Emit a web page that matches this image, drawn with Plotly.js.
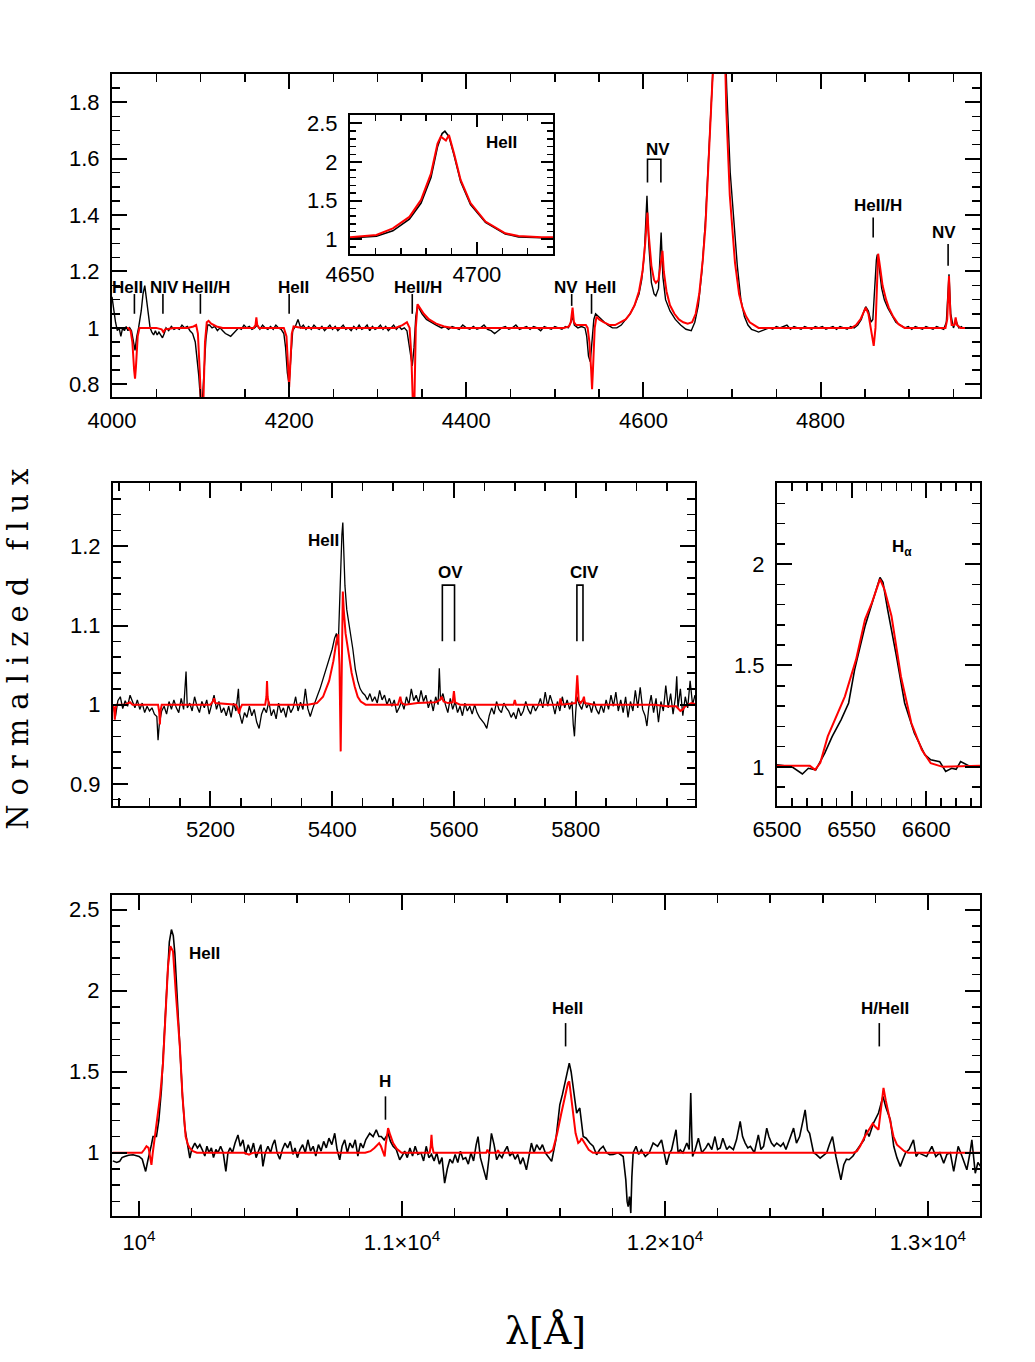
<!DOCTYPE html>
<html><head><meta charset="utf-8">
<script src="https://cdn.plot.ly/plotly-3.0.1.min.js"></script>
<style>html,body{margin:0;padding:0;background:#fff}</style>
</head><body><div id="chart" style="width:1035px;height:1362px"></div>
<script>
// ---------------- DATA ----------------
// Top panel (4000-4980 A): observed (black) and model (red)
const topObs = [[4000,1.11],[4002,1.06],[4004,1.02],[4006,0.99],[4008,1.0],[4010,0.97],[4012,1.0],[4014,0.99],[4016,1.005],[4018,0.99],[4020,1.0],[4022,0.99],[4024,0.95],[4026,0.92],[4028,0.97],[4030,1.0],[4033,1.06],[4035,1.12],[4037,1.15],[4039,1.10],[4041,1.03],[4043,1.0],[4045,0.985],[4047,0.975],[4049,0.99],[4051,0.975],[4053,0.985],[4055,0.975],[4057,0.965],[4059,0.98],[4061,1.0],[4064,0.99],[4067,1.005],[4070,0.995],[4073,1.0],[4076,0.995],[4079,1.01],[4082,1.0],[4085,1.005],[4088,0.99],[4091,0.98],[4094,0.95],[4096,0.9],[4098,0.83],[4100,0.74],[4102,0.74],[4104,0.85],[4106,0.96],[4108,1.01],[4110,1.01],[4113,1.0],[4116,1.005],[4119,0.99],[4122,1.0],[4125,0.99],[4128,0.98],[4131,0.975],[4134,0.97],[4137,0.98],[4140,0.99],[4143,1.0],[4146,0.995],[4149,1.01],[4152,1.0],[4155,1.005],[4158,0.995],[4161,1.0],[4164,1.01],[4167,0.995],[4170,1.01],[4173,1.0],[4176,0.995],[4179,1.005],[4182,0.995],[4185,1.01],[4188,1.0],[4191,0.995],[4194,0.98],[4196,0.93],[4198,0.84],[4200,0.8],[4202,0.9],[4204,0.99],[4207,1.005],[4210,1.03],[4213,1.0],[4216,1.01],[4219,0.995],[4222,1.005],[4225,0.995],[4228,1.01],[4231,1.0],[4234,0.995],[4237,1.005],[4240,0.99],[4243,1.0],[4246,1.01],[4249,0.995],[4252,1.005],[4255,0.99],[4258,1.0],[4261,1.01],[4264,0.995],[4267,1.0],[4270,0.99],[4273,1.005],[4276,0.995],[4279,1.01],[4282,0.995],[4285,1.0],[4288,1.01],[4291,0.99],[4294,1.005],[4297,0.995],[4300,1.0],[4303,1.01],[4306,0.995],[4309,1.005],[4312,0.99],[4315,1.0],[4318,1.01],[4321,0.995],[4324,1.005],[4327,0.995],[4330,1.0],[4333,0.99],[4335,0.95],[4337,0.9],[4339,0.865],[4341,0.93],[4343,1.04],[4345,1.08],[4347,1.07],[4350,1.05],[4355,1.03],[4360,1.02],[4366,1.01],[4372,1.0],[4376,1.005],[4380,0.995],[4384,1.005],[4388,1.0],[4392,0.995],[4396,1.01],[4400,1.0],[4404,0.995],[4408,1.005],[4412,0.995],[4416,1.0],[4420,1.01],[4424,0.995],[4428,0.99],[4432,0.98],[4436,0.99],[4440,1.0],[4444,1.005],[4448,0.995],[4452,1.0],[4456,1.01],[4460,0.995],[4464,1.0],[4468,1.005],[4472,0.995],[4476,1.005],[4480,1.0],[4484,0.99],[4488,1.005],[4492,1.0],[4496,0.995],[4500,1.005],[4504,1.0],[4508,0.995],[4512,1.005],[4515,1.0],[4518,1.02],[4520,1.04],[4522,1.01],[4526,1.0],[4530,1.005],[4534,1.0],[4536,0.97],[4538,0.9],[4540,0.88],[4542,0.95],[4544,1.03],[4546,1.05],[4549,1.04],[4552,1.03],[4556,1.02],[4560,1.01],[4565,1.0],[4570,1.0],[4575,1.01],[4580,1.03],[4585,1.05],[4590,1.08],[4595,1.12],[4598,1.17],[4601,1.26],[4603,1.4],[4604,1.468],[4606,1.3],[4609,1.16],[4612,1.12],[4614,1.113],[4617,1.14],[4619,1.25],[4620,1.338],[4622,1.18],[4625,1.1],[4630,1.06],[4636,1.03],[4642,1.01],[4648,0.995],[4654,0.99],[4658,1.02],[4662,1.08],[4666,1.2],[4670,1.38],[4674,1.65],[4678,2.0],[4682,2.3],[4686,2.39],[4690,2.25],[4694,1.85],[4698,1.55],[4702,1.38],[4706,1.22],[4710,1.1],[4714,1.04],[4718,1.01],[4722,0.995],[4726,0.99],[4730,0.985],[4734,0.99],[4738,0.995],[4742,1.0],[4746,0.995],[4750,1.005],[4754,1.0],[4758,1.005],[4762,1.01],[4766,0.995],[4770,1.005],[4774,1.0],[4778,0.995],[4782,1.005],[4786,1.0],[4790,0.995],[4794,1.005],[4798,1.0],[4802,1.005],[4806,0.995],[4810,1.0],[4814,1.005],[4818,0.995],[4822,1.005],[4826,1.0],[4830,0.995],[4834,1.005],[4838,1.0],[4842,1.01],[4846,1.03],[4849,1.06],[4851,1.075],[4854,1.06],[4857,1.02],[4859,1.03],[4861,1.15],[4863,1.24],[4864,1.26],[4866,1.22],[4869,1.14],[4872,1.1],[4876,1.07],[4880,1.05],[4885,1.02],[4890,1.01],[4895,1.0],[4899,1.005],[4903,0.995],[4907,1.005],[4911,1.0],[4915,0.995],[4919,1.005],[4923,1.0],[4927,0.995],[4931,1.005],[4935,1.0],[4939,0.995],[4942,1.02],[4944,1.15],[4945,1.19],[4947,1.05],[4950,1.0],[4953,1.025],[4956,1.0],[4960,1.005]];
const topMod = [[4000,1.0],[4018,1.0],[4021,0.99],[4023,0.95],[4025,0.85],[4026,0.82],[4027,0.86],[4029,0.97],[4031,1.0],[4050,1.0],[4056,0.995],[4058,0.985],[4060,0.995],[4070,1.0],[4085,1.0],[4092,1.005],[4095,1.01],[4097,0.98],[4099,0.85],[4101,0.7],[4103,0.72],[4105,0.95],[4107,1.02],[4109,1.025],[4112,1.015],[4118,1.005],[4125,1.0],[4160,1.0],[4162,1.01],[4163,1.037],[4164,1.01],[4166,1.0],[4194,1.0],[4197,0.97],[4199,0.85],[4200,0.79],[4201,0.85],[4203,0.98],[4205,1.005],[4215,1.0],[4320,1.0],[4328,1.01],[4333,1.02],[4336,1.0],[4338,0.9],[4340,0.7],[4341.5,0.75],[4343,1.0],[4345,1.084],[4348,1.07],[4352,1.05],[4358,1.03],[4366,1.015],[4375,1.005],[4385,1.0],[4510,1.0],[4516,1.005],[4518,1.02],[4520,1.072],[4521.5,1.02],[4524,1.01],[4530,1.01],[4535,1.01],[4537,1.0],[4539,0.95],[4541,0.85],[4542,0.783],[4543,0.85],[4545,1.0],[4547,1.04],[4550,1.03],[4555,1.02],[4562,1.01],[4568,1.01],[4575,1.02],[4580,1.03],[4585,1.05],[4590,1.08],[4595,1.13],[4599,1.2],[4602,1.3],[4604.5,1.409],[4606,1.33],[4609,1.22],[4612,1.17],[4614,1.16],[4617,1.17],[4619,1.22],[4621.5,1.273],[4623,1.2],[4626,1.13],[4630,1.08],[4635,1.05],[4640,1.03],[4645,1.02],[4650,1.015],[4655,1.02],[4659,1.05],[4663,1.12],[4667,1.24],[4670,1.36],[4674,1.62],[4678,1.98],[4682,2.27],[4684.5,2.31],[4686,2.33],[4688,2.28],[4689,2.35],[4691,2.11],[4693.6,1.77],[4697.5,1.47],[4703.4,1.23],[4708,1.12],[4712,1.07],[4716,1.04],[4720,1.02],[4725,1.01],[4730,1.0],[4835,1.0],[4840,1.01],[4845,1.03],[4849,1.06],[4851,1.072],[4854,1.05],[4857,1.0],[4860,0.936],[4862,1.0],[4863.5,1.15],[4865,1.263],[4867,1.22],[4870,1.15],[4874,1.1],[4877,1.072],[4882,1.04],[4888,1.013],[4895,1.0],[4938,1.0],[4941,1.0],[4943,1.03],[4945,1.184],[4946.5,1.05],[4948,1.01],[4951,1.01],[4952.5,1.037],[4954,1.01],[4958,1.0],[4980,1.0]];

// Inset (HeII 4686)
const insetObs = [[4650,1.017],[4660.4,1.04],[4666.9,1.11],[4673.4,1.26],[4678,1.47],[4681.9,1.80],[4684.5,2.20],[4686.3,2.37],[4687.4,2.40],[4689,2.33],[4691,2.09],[4693.6,1.75],[4697.5,1.45],[4703.4,1.22],[4711.2,1.07],[4716.4,1.03],[4725.5,1.02],[4730,1.02]];
const insetMod = [[4650,1.026],[4660.4,1.056],[4666.9,1.142],[4673.4,1.29],[4678,1.51],[4681.9,1.85],[4684.5,2.24],[4685.8,2.33],[4687.8,2.28],[4689,2.35],[4691,2.11],[4693.6,1.77],[4697.5,1.47],[4703.4,1.23],[4711.2,1.078],[4716.4,1.043],[4725.5,1.026],[4730,1.026]];

// Middle-left panel (5040-6000 A)
const midObs = [[5040,1.0],[5044,0.985],[5048,1.005],[5052,1.01],[5056,0.995],[5060,1.005],[5064,0.998],[5068,1.012],[5072,1.004],[5076,0.996],[5080,1.006],[5084,0.994],[5088,1.002],[5092,0.99],[5096,0.998],[5100,0.992],[5104,0.996],[5108,0.988],[5112,0.985],[5114,0.955],[5116,0.975],[5120,0.992],[5124,0.998],[5128,0.988],[5132,1.004],[5136,0.994],[5140,1.006],[5144,0.996],[5148,0.99],[5152,1.008],[5156,0.994],[5160,1.042],[5162,0.996],[5166,1.002],[5170,0.992],[5174,1.01],[5178,0.998],[5182,0.99],[5186,1.004],[5190,0.996],[5194,1.006],[5198,0.988],[5202,1.0],[5206,1.012],[5210,0.994],[5214,1.004],[5218,0.99],[5222,0.996],[5226,0.986],[5230,0.998],[5234,0.984],[5238,1.002],[5242,0.992],[5246,1.02],[5248,0.988],[5252,0.976],[5256,0.99],[5260,0.984],[5264,0.998],[5268,0.986],[5272,0.994],[5276,0.978],[5280,0.97],[5284,0.988],[5288,0.996],[5292,0.99],[5296,1.004],[5300,0.986],[5304,0.994],[5308,0.982],[5312,1.002],[5316,0.99],[5320,0.996],[5324,0.984],[5328,1.0],[5332,0.99],[5336,0.996],[5340,1.01],[5344,0.992],[5348,1.003],[5352,0.994],[5356,1.02],[5360,0.995],[5364,0.985],[5368,0.995],[5372,1.005],[5376,1.012],[5380,1.02],[5384,1.03],[5388,1.04],[5392,1.048],[5396,1.058],[5400,1.07],[5404,1.084],[5407,1.09],[5410,1.075],[5412,1.12],[5414,1.18],[5416,1.215],[5417.5,1.23],[5419,1.19],[5421,1.15],[5424,1.12],[5427,1.105],[5430,1.095],[5434,1.07],[5438,1.045],[5442,1.03],[5446,1.02],[5450,1.015],[5454,1.012],[5458,1.006],[5462,1.014],[5466,1.004],[5470,1.01],[5474,1.002],[5478,1.018],[5482,1.006],[5486,1.012],[5490,1.0],[5494,1.008],[5498,0.998],[5502,1.006],[5506,0.99],[5510,0.996],[5514,1.004],[5518,0.994],[5522,1.01],[5526,1.0],[5530,1.02],[5534,1.005],[5538,1.012],[5542,1.002],[5546,1.018],[5550,1.004],[5554,1.012],[5558,0.996],[5562,1.006],[5566,0.992],[5570,1.01],[5574,1.0],[5576,1.046],[5578,1.006],[5582,1.014],[5586,1.0],[5590,0.99],[5594,1.008],[5598,0.994],[5602,1.004],[5606,0.99],[5610,0.998],[5614,0.986],[5618,1.002],[5622,0.992],[5626,0.998],[5630,0.988],[5634,1.0],[5638,0.99],[5642,0.984],[5646,0.98],[5650,0.976],[5654,0.97],[5658,0.986],[5662,0.996],[5666,0.988],[5670,1.004],[5674,0.994],[5678,0.99],[5682,1.002],[5686,0.996],[5690,0.992],[5694,0.984],[5698,0.99],[5702,0.982],[5706,0.996],[5710,0.986],[5714,0.992],[5718,1.004],[5722,0.994],[5726,0.988],[5730,1.0],[5734,0.992],[5738,0.998],[5742,1.008],[5746,0.996],[5750,1.016],[5754,0.998],[5758,1.012],[5762,1.002],[5766,0.988],[5770,1.004],[5774,0.992],[5778,1.01],[5782,0.996],[5786,1.006],[5790,0.994],[5794,1.004],[5796,0.975],[5798,0.96],[5800,0.99],[5802,1.01],[5806,1.0],[5810,0.994],[5814,1.006],[5818,0.996],[5822,1.002],[5826,0.99],[5830,1.004],[5834,0.994],[5838,0.988],[5842,1.0],[5846,0.99],[5850,1.006],[5854,0.994],[5858,1.012],[5862,0.998],[5866,1.016],[5870,0.992],[5874,1.006],[5878,0.99],[5882,1.01],[5886,0.984],[5890,1.004],[5894,0.992],[5898,1.018],[5902,0.996],[5906,1.022],[5910,0.994],[5914,0.986],[5917,0.973],[5920,0.996],[5924,1.012],[5928,0.99],[5932,1.008],[5936,0.978],[5940,1.004],[5944,0.992],[5948,1.024],[5952,0.996],[5956,1.014],[5960,0.988],[5964,1.01],[5966,1.036],[5968,0.996],[5972,1.02],[5976,0.986],[5980,1.01],[5984,0.996],[5988,1.03],[5992,1.0],[5996,1.012],[6000,1.004]];
const midMod = [[5040,1.0],[5042,0.995],[5043,0.981],[5044,0.995],[5046,1.0],[5060,1.0],[5068,1.003],[5072,1.0],[5114,1.0],[5116,0.99],[5117,0.975],[5118,0.992],[5120,1.0],[5200,1.0],[5204,1.004],[5206,1.008],[5208,1.002],[5242,1.0],[5245,0.995],[5247,0.989],[5249,0.995],[5252,1.0],[5290,1.0],[5292,1.01],[5293,1.03],[5294,1.01],[5296,1.0],[5360,1.0],[5375,1.002],[5385,1.01],[5395,1.03],[5402,1.055],[5407,1.08],[5410,1.089],[5412,1.05],[5413,0.99],[5414,0.941],[5415,1.0],[5416,1.1],[5417.5,1.143],[5419,1.12],[5422,1.09],[5427,1.065],[5432,1.04],[5437,1.023],[5442,1.01],[5447,1.004],[5455,1.0],[5508,1.0],[5510,1.004],[5512,1.01],[5514,1.002],[5520,1.0],[5540,1.002],[5570,1.003],[5577,1.006],[5580,1.01],[5583,1.004],[5590,1.002],[5598,1.003],[5600,1.017],[5602,1.003],[5610,1.0],[5698,1.0],[5700,1.006],[5702,1.0],[5773,1.0],[5775,1.008],[5777,1.0],[5800,1.002],[5802.6,1.037],[5805,1.005],[5808,1.002],[5812,1.006],[5813.6,1.01],[5815,1.002],[5830,1.0],[5930,1.0],[5950,0.998],[5965,0.998],[5972,0.992],[5976,0.994],[5980,0.998],[5990,1.002],[6000,1.0]];

// Middle-right panel (H alpha)
const haObs = [[6500,1.01],[6505,1.005],[6510,1.0],[6517,0.965],[6521,0.993],[6526,0.985],[6532,1.068],[6537,1.15],[6543,1.233],[6548,1.315],[6552,1.48],[6559,1.695],[6563,1.794],[6569,1.934],[6571,1.91],[6574,1.78],[6580,1.546],[6585.5,1.315],[6592,1.167],[6599,1.06],[6603,1.035],[6609,1.026],[6613,0.977],[6617,0.993],[6620,0.988],[6623,1.026],[6630,1.0],[6636,1.005]];
const haMod = [[6500,1.005],[6510,1.005],[6522,1.005],[6525.5,0.985],[6529,1.02],[6534,1.15],[6545.5,1.348],[6553,1.53],[6559,1.728],[6563.6,1.81],[6569,1.926],[6572,1.876],[6576.7,1.744],[6583,1.447],[6590,1.216],[6597,1.084],[6603,1.018],[6611,1.0],[6636,1.005]];

// Bottom panel (near-IR)
const irObs = [[9900,0.95],[9915,0.94],[9926,0.947],[9935,0.97],[9945,0.977],[9960,0.985],[9977,0.988],[9990,0.98],[10000,0.977],[10012,0.96],[10025,0.885],[10033,0.95],[10041,1.0],[10047,1.05],[10053,1.1],[10066,1.1],[10075,1.2],[10085,1.39],[10095,1.7],[10104,1.965],[10115,2.3],[10123,2.377],[10130,2.34],[10136,2.23],[10145,1.95],[10155,1.656],[10165,1.35],[10174,1.152],[10183,1.05],[10193,0.967],[10200,1.02],[10212,1.06],[10222,1.03],[10231,1.05],[10240,1.02],[10250,0.98],[10258,1.04],[10266,1.0],[10275,1.03],[10283,0.97],[10292,1.02],[10300,1.0],[10310,1.04],[10320,1.0],[10330,0.885],[10338,1.0],[10346,1.03],[10355,1.0],[10365,1.06],[10376,1.11],[10385,1.04],[10395,1.08],[10405,0.99],[10415,1.05],[10425,1.0],[10435,1.06],[10445,0.97],[10455,1.02],[10463,1.05],[10471,0.916],[10480,1.0],[10490,1.04],[10500,1.0],[10508,1.05],[10516,1.08],[10525,1.0],[10535,0.96],[10545,1.02],[10555,1.06],[10565,1.03],[10575,1.07],[10585,0.99],[10593,1.03],[10602,0.97],[10612,1.02],[10622,1.05],[10632,1.0],[10642,1.08],[10652,1.01],[10662,1.04],[10672,0.98],[10682,1.05],[10692,1.01],[10702,1.07],[10712,1.03],[10722,1.09],[10733,1.05],[10744,1.12],[10753,1.02],[10763,0.957],[10772,1.04],[10782,1.08],[10792,1.0],[10802,1.06],[10812,1.03],[10822,1.08],[10832,0.98],[10842,1.06],[10852,1.03],[10862,1.08],[10877,1.12],[10890,1.1],[10902,1.142],[10912,1.1],[10921,1.1],[10932,1.08],[10947,1.12],[10956,1.07],[10966,1.04],[10978,1.02],[10991,0.957],[11000,0.98],[11010,1.01],[11020,0.97],[11030,1.03],[11040,0.98],[11050,1.04],[11060,0.99],[11072,1.0],[11082,0.95],[11092,1.04],[11102,0.97],[11112,0.99],[11122,0.95],[11132,1.0],[11142,0.93],[11152,0.97],[11162,0.813],[11172,0.9],[11182,0.96],[11192,0.936],[11202,0.99],[11212,0.94],[11222,1.01],[11232,0.96],[11242,0.97],[11252,0.93],[11262,1.0],[11272,0.95],[11282,1.05],[11289,1.1],[11298,0.97],[11310,0.9],[11321,0.833],[11330,0.96],[11340,1.12],[11350,1.05],[11360,0.957],[11370,0.99],[11380,0.97],[11390,1.01],[11400,1.04],[11410,0.98],[11420,1.0],[11430,0.96],[11440,0.99],[11450,0.93],[11460,0.97],[11473,0.895],[11482,0.97],[11492,1.06],[11502,1.0],[11512,1.05],[11524,1.018],[11534,1.05],[11545,1.0],[11557,0.97],[11569,0.947],[11585,1.08],[11600,1.296],[11610,1.36],[11619,1.43],[11628,1.48],[11636,1.553],[11643,1.5],[11651,1.41],[11664,1.245],[11676,1.276],[11689,1.1],[11700,1.09],[11714,1.06],[11727,1.04],[11740,0.988],[11752,1.02],[11765,1.04],[11778,1.0],[11790,0.988],[11803,0.99],[11822,1.0],[11841,0.977],[11851,0.833],[11856,0.7],[11860,0.668],[11865,0.73],[11870,0.628],[11874,0.85],[11879,1.0],[11890,1.04],[11900,0.99],[11910,1.018],[11925,0.977],[11940,1.0],[11955,1.06],[11972,1.04],[11987,1.08],[12006,0.926],[12018,1.0],[12025,1.018],[12035,1.1],[12042,1.142],[12050,1.0],[12058,1.018],[12068,1.0],[12083,1.06],[12092,1.02],[12098,1.368],[12102,1.1],[12105,0.977],[12115,1.02],[12127,1.09],[12140,1.0],[12155,1.03],[12165,1.06],[12178,1.02],[12190,1.1],[12200,1.02],[12210,1.03],[12220,1.09],[12235,1.02],[12245,1.04],[12260,1.02],[12272,1.08],[12286,1.193],[12295,1.1],[12305,1.06],[12315,1.03],[12325,1.04],[12340,1.0],[12355,1.11],[12365,1.02],[12375,1.04],[12387,1.152],[12395,1.1],[12405,1.06],[12415,1.04],[12425,1.06],[12440,1.04],[12450,1.06],[12460,1.02],[12475,1.09],[12489,1.152],[12500,1.06],[12512,1.1],[12525,1.2],[12533,1.265],[12542,1.14],[12550,1.12],[12565,1.0],[12575,0.99],[12590,0.967],[12605,0.99],[12615,1.0],[12625,1.05],[12637,1.1],[12650,0.977],[12660,0.9],[12669,0.833],[12680,0.926],[12690,0.96],[12700,0.957],[12715,0.98],[12730,1.018],[12745,1.05],[12757,1.08],[12765,1.142],[12776,1.1],[12793,1.183],[12812,1.245],[12829,1.348],[12840,1.28],[12857,1.204],[12870,1.04],[12882,0.97],[12895,0.916],[12905,0.96],[12915,1.0],[12928,1.02],[12945,1.08],[12955,0.977],[12965,1.0],[12977,0.99],[12995,0.977],[13015,1.04],[13030,0.977],[13045,1.0],[13060,0.936],[13072,0.99],[13085,1.0],[13098,0.885],[13115,1.04],[13130,0.977],[13148,0.895],[13160,1.0],[13167,1.08],[13180,0.874],[13190,0.94],[13200,0.916]];
const irMod = [[9900,1.0],[10010,1.0],[10020,1.02],[10028,1.04],[10036,1.03],[10042,0.98],[10047,0.926],[10052,1.0],[10060,1.1],[10070,1.2],[10080,1.35],[10091,1.553],[10100,1.85],[10110,2.15],[10119,2.274],[10124,2.26],[10129,2.243],[10140,1.98],[10155,1.656],[10165,1.35],[10177,1.1],[10186,1.05],[10193,1.029],[10205,1.01],[10220,1.0],[10400,1.0],[10412,0.995],[10418,0.988],[10425,0.995],[10435,1.0],[10860,1.0],[10880,1.01],[10895,1.03],[10905,1.05],[10913,1.06],[10920,1.04],[10928,0.995],[10934,0.977],[10938,1.05],[10942,1.11],[10947,1.152],[10955,1.11],[10966,1.06],[10980,1.025],[10998,1.0],[11105,1.0],[11109,1.04],[11112,1.11],[11115,1.04],[11120,1.0],[11320,1.0],[11325,1.02],[11330,1.0],[11360,1.0],[11365,1.015],[11370,1.0],[11560,1.0],[11574,1.018],[11590,1.12],[11606,1.245],[11620,1.36],[11631,1.43],[11636,1.44],[11643,1.35],[11651,1.245],[11660,1.12],[11670,1.06],[11677,1.07],[11683,1.09],[11690,1.07],[11701,1.04],[11710,1.018],[11726,1.0],[12717,1.0],[12730,1.01],[12742,1.04],[12760,1.1],[12778,1.15],[12790,1.18],[12800,1.16],[12812,1.142],[12820,1.25],[12831,1.4],[12840,1.32],[12850,1.245],[12860,1.16],[12869,1.1],[12882,1.05],[12895,1.03],[12910,1.01],[12925,1.0],[13200,1.0]];

// Line identifications
const topLabelText = ['HeII','NIV','HeII/H','HeII','HeII/H','NV','HeII','NV','HeII/H','NV'];
const topLabelX    = [4017.7,4059,4106,4205,4346,4512.5,4552,4616,4865,4939.5];
const topLabelY    = [1.143,1.143,1.143,1.143,1.143,1.143,1.143,1.634,1.433,1.338];
const topTickX  = [4025.3,4057.5,4099.8,4200,4339,4519,4541.4,4859.4,4944];
const topTickY0 = [1.05,1.05,1.05,1.05,1.05,1.078,1.05,1.32,1.22];
const topTickY1 = [1.12,1.12,1.12,1.12,1.12,1.12,1.12,1.391,1.297];
const topBracket = [4604.6,4619.7,1.515,1.598];
const midLabelText = ['HeII','OV','CIV'];
const midLabelX = [5385,5595,5815];
const midLabelY = [1.207,1.167,1.167];
const midBrackets = [[5581,5601,1.08,1.151],[5802,5812,1.08,1.151]];
const irLabelText = ['HeII','H','HeII','H/HeII'];
const irLabelX = [10250,10937,11631,12838];
const irLabelY = [2.23,1.44,1.893,1.893];
const irTickX  = [10937,11622,12815];
const irTickY0 = [1.204,1.656,1.656];
const irTickY1 = [1.348,1.80,1.80];

// ---------------- LAYOUT ----------------
const W = 1035, H = 1362;
const px = (a,b)=>[a/W, b/W];
const py = (top,bottom)=>[1-bottom/H, 1-top/H];
const tickFont = {family:'Liberation Sans, Arial, sans-serif', size:22, color:'#000'};
const labFont = {family:'Liberation Sans Narrow, Liberation Sans, Arial, sans-serif', size:17, color:'#000', weight:'bold'};

function axis(o){
  const a = {showline:true, linewidth:2, linecolor:'#000', mirror:'allticks',
    ticks:'inside', ticklen:15, tickwidth:2, tickcolor:'#000',
    showgrid:false, zeroline:false, tickfont:tickFont, fixedrange:true,
    ticklabelstandoff:6};
  const m = o.minor; delete o.minor;
  Object.assign(a, o);
  if (m) a.minor = Object.assign({ticks:'inside', ticklen:8, tickwidth:1.5, tickcolor:'#000', showgrid:false}, m);
  return a;
}

const xs = arr=>arr.map(p=>p[0]);
const ys = arr=>arr.map(p=>p[1]);
function tr(arr, xa, ya, color, width){
  return {x:xs(arr), y:ys(arr), xaxis:xa, yaxis:ya, type:'scatter', mode:'lines',
    line:{color:color, width:width}, hoverinfo:'skip', showlegend:false};
}
const BLK='#000', RED='#ff0000';
const traces = [
  tr(topObs,'x','y',BLK,1.4), tr(topMod,'x','y',RED,2),
  tr(insetObs,'x2','y2',BLK,1.6), tr(insetMod,'x2','y2',RED,2),
  tr(midObs,'x3','y3',BLK,1.3), tr(midMod,'x3','y3',RED,2),
  tr(haObs,'x4','y4',BLK,1.6), tr(haMod,'x4','y4',RED,2),
  tr(irObs,'x5','y5',BLK,1.6), tr(irMod,'x5','y5',RED,2)
];

const annotations = [];
const shapes = [];
function addLabels(texts, xv, yv, xr, yr){
  texts.forEach((t,i)=>annotations.push({text:t, x:xv[i], y:yv[i], xref:xr, yref:yr,
    showarrow:false, xanchor:'center', yanchor:'middle', font:labFont}));
}
function addTicks(xv, y0, y1, xr, yr){
  xv.forEach((x,i)=>shapes.push({type:'line', xref:xr, yref:yr, x0:x, x1:x, y0:y0[i], y1:y1[i],
    line:{color:'#000', width:1.6}}));
}
function addBracket(b, xr, yr){
  shapes.push({type:'path', xref:xr, yref:yr,
    path:`M ${b[0]},${b[2]} L ${b[0]},${b[3]} L ${b[1]},${b[3]} L ${b[1]},${b[2]}`,
    line:{color:'#000', width:1.6}});
}
addLabels(topLabelText, topLabelX, topLabelY, 'x', 'y');
addTicks(topTickX, topTickY0, topTickY1, 'x', 'y');
addBracket(topBracket, 'x', 'y');
addLabels(['HeII'], [4709.6], [2.26], 'x2', 'y2');
addLabels(midLabelText, midLabelX, midLabelY, 'x3', 'y3');
midBrackets.forEach(b=>addBracket(b,'x3','y3'));
annotations.push({text:'H<sub>α</sub>', x:6584, y:2.08, xref:'x4', yref:'y4', showarrow:false,
  xanchor:'center', yanchor:'middle', font:labFont});
addLabels(irLabelText, irLabelX, irLabelY, 'x5', 'y5');
addTicks(irTickX, irTickY0, irTickY1, 'x5', 'y5');

annotations.push({text:'Normalized flux', xref:'paper', yref:'paper', x:18/W, y:1-645/H,
  textangle:-90, showarrow:false, xanchor:'center', yanchor:'middle',
  font:{family:'DejaVu Serif, serif', size:29, color:'#000'}});
annotations.push({text:'λ[Å]', xref:'paper', yref:'paper', x:545/W, y:1-1331/H,
  showarrow:false, xanchor:'center', yanchor:'middle',
  font:{family:'DejaVu Serif, serif', size:38, color:'#000'}});

const layout = {
  width:W, height:H, margin:{l:0,r:0,t:0,b:0}, paper_bgcolor:'#fff', plot_bgcolor:'rgba(0,0,0,0)',
  showlegend:false,
  xaxis: axis({domain:px(112,980), range:[4000,4980], anchor:'y', tick0:4000, dtick:200, ticklabelstandoff:3, minor:{dtick:50}}),
  yaxis: axis({domain:py(74,397), range:[0.755,1.9], anchor:'x', tick0:0, dtick:0.2, minor:{dtick:0.05}}),
  xaxis2: axis({domain:px(350,553), range:[4650,4730], anchor:'y2', tick0:4650, dtick:50, ticklen:12, ticklabelstandoff:0, minor:{dtick:10, ticklen:6}}),
  yaxis2: axis({domain:py(115,254), range:[0.81,2.61], anchor:'x2', tick0:0, dtick:0.5, ticklen:12, minor:{dtick:0.1, ticklen:6}}),
  xaxis3: axis({domain:px(113,695), range:[5040,5996], anchor:'y3', tick0:5000, dtick:200, ticklabelstandoff:3, minor:{dtick:50}}),
  yaxis3: axis({domain:py(483,806), range:[0.872,1.28], anchor:'x3', tick0:0, dtick:0.1, minor:{dtick:0.02}}),
  xaxis4: axis({domain:px(777,980), range:[6500,6636], anchor:'y4', tick0:6500, dtick:50, ticklabelstandoff:3, minor:{dtick:10}}),
  yaxis4: axis({domain:py(483,806), range:[0.807,2.4], anchor:'x4', tick0:0, dtick:0.5, minor:{dtick:0.1}}),
  xaxis5: axis({domain:px(112,980), range:[9897,13198], anchor:'y5', tickmode:'array', ticklabelstandoff:6,
    tickvals:[10000,11000,12000,13000],
    ticktext:['10<sup>4</sup>','1.1×10<sup>4</sup>','1.2×10<sup>4</sup>','1.3×10<sup>4</sup>'],
    minor:{tickmode:'linear', tick0:10000, dtick:200}}),
  yaxis5: axis({domain:py(895,1216), range:[0.61,2.59], anchor:'x5', tick0:0, dtick:0.5, minor:{dtick:0.1}}),
  annotations:annotations, shapes:shapes
};

Plotly.newPlot('chart', traces, layout, {staticPlot:true, displayModeBar:false}).then(gd=>{
  gd.querySelectorAll('.annotation-text').forEach(t=>{
    if (t.textContent === 'Normalized flux') t.style.letterSpacing = '9px';
  });
  // drop empty placeholder text nodes (unused axis titles)
  gd.querySelectorAll('text').forEach(t=>{ if (!t.textContent.trim()) t.remove(); });
});
</script></body></html>
